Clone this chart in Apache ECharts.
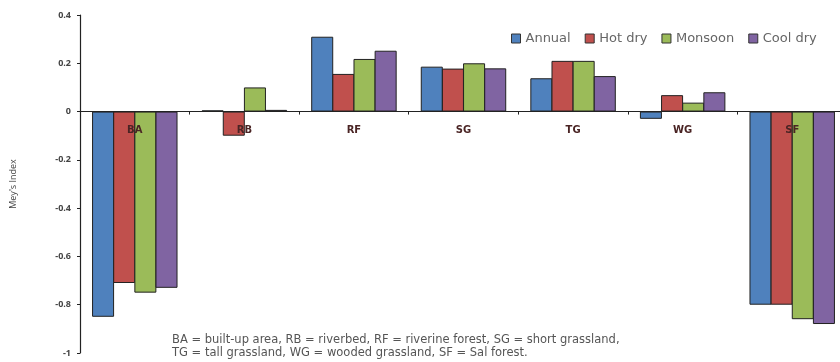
<!DOCTYPE html>
<html>
<head>
<meta charset="utf-8">
<script src="https://cdn.jsdelivr.net/npm/echarts@6/dist/echarts.min.js"></script>
<style>
  html, body { margin: 0; padding: 0; background: #fff; }
  #chart { width: 840px; height: 362px; }
</style>
</head>
<body>
<div id="chart"></div>
<script>
// Habitat categories and seasonal Mey's index values
const categories = ['BA', 'RB', 'RF', 'SG', 'TG', 'WG', 'SF'];
const annual  = [-0.85, 0.005, 0.31, 0.186, 0.138, -0.03, -0.80];
const hotDry  = [-0.71, -0.10, 0.156, 0.178, 0.21, 0.068, -0.80];
const monsoon = [-0.75, 0.10, 0.218, 0.20, 0.21, 0.037, -0.86];
const coolDry = [-0.73, 0.007, 0.252, 0.179, 0.147, 0.08, -0.88];
const seriesNames = ['Annual', 'Hot dry', 'Monsoon', 'Cool dry'];
const colors = ['#4f81bd', '#c0504d', '#9bbb59', '#8064a2'];
const yTicks = { min: -1, max: 0.4, interval: 0.2 };
const footnote = [
  'BA = built-up area, RB = riverbed, RF = riverine forest, SG = short grassland,',
  'TG = tall grassland, WG = wooded grassland, SF = Sal forest.'
];

const gridBox = { left: 80, top: 15, width: 767, height: 338 };
// lift the category axis from the bottom edge up to the zero line
const zeroOffset = -gridBox.height * (0 - yTicks.min) / (yTicks.max - yTicks.min);

const chart = echarts.init(document.getElementById('chart'));
const values = [annual, hotDry, monsoon, coolDry];
const font = 'Open Sans, DejaVu Sans, sans-serif';
const wideFont = '"DejaVu Sans", Verdana, sans-serif';

chart.setOption({
  animation: false,
  textStyle: { fontFamily: font },
  legend: {
    left: 506,
    top: 27,
    icon: 'rect',
    itemWidth: 9,
    itemHeight: 9,
    itemGap: 14,
    textStyle: { color: '#666', fontSize: 13, fontFamily: wideFont },
    data: seriesNames.map(n => ({ name: n, itemStyle: { borderColor: '#333', borderWidth: 1 } }))
  },
  grid: Object.assign({ outerBoundsMode: 'none', containLabel: false }, gridBox),
  xAxis: {
    type: 'category',
    data: categories,
    offset: zeroOffset,
    axisLine: { onZero: false, lineStyle: { color: '#222', width: 1.2 } },
    axisTick: { show: true, length: 3, lineStyle: { color: '#222' } },
    axisLabel: { color: '#4a2424', fontSize: 10, fontWeight: 'bold', margin: 14, fontFamily: wideFont },
    z: 5
  },
  yAxis: {
    type: 'value',
    min: yTicks.min,
    max: yTicks.max,
    interval: yTicks.interval,
    name: "Mey's Index",
    nameLocation: 'middle',
    nameGap: 62,
    nameRotate: 90,
    nameTextStyle: { color: '#444', fontSize: 9 },
    axisLine: { show: true, lineStyle: { color: '#222', width: 1.2 } },
    axisTick: { show: true, length: 3, lineStyle: { color: '#222' } },
    splitLine: { show: false },
    axisLabel: {
      color: '#444', fontSize: 9, fontWeight: 'bold', margin: 9,
      formatter: v => (Math.round(v * 10) / 10).toString()
    }
  },
  graphic: footnote.map((t, i) => ({
    type: 'text',
    left: 172,
    top: 334 + i * 13.5,
    style: { text: t, fill: '#555', fontSize: 11.5, fontFamily: wideFont }
  })),
  series: seriesNames.map((name, i) => ({
    name,
    type: 'bar',
    data: values[i],
    barGap: '-4%',
    barCategoryGap: '22%',
    itemStyle: { color: colors[i], borderColor: '#222', borderWidth: 1 }
  }))
});
</script>
</body>
</html>
